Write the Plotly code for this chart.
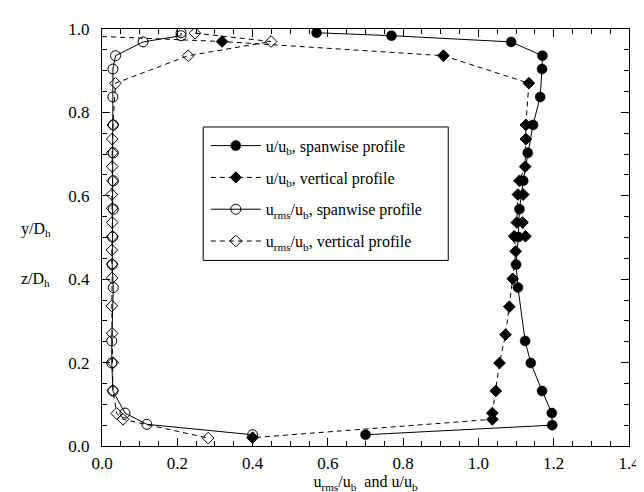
import plotly.graph_objects as go

# u/u_b, spanwise profile (filled circles, solid line)
u_span_x = [0.570, 0.769, 1.087, 1.170, 1.169, 1.164, 1.145, 1.131, 1.119, 1.109, 1.106, 1.100, 1.105, 1.124, 1.139, 1.169, 1.195, 1.196, 0.700]
u_span_y = [0.991, 0.984, 0.969, 0.936, 0.904, 0.837, 0.770, 0.703, 0.636, 0.568, 0.501, 0.435, 0.380, 0.252, 0.199, 0.132, 0.079, 0.050, 0.027]

# u/u_b, vertical profile (filled diamonds, dashed line)
u_vert_x = [0.000, 0.319, 0.907, 1.134, 1.126, 1.126, 1.124, 1.109, 1.119, 1.105, 1.102, 1.117, 1.125, 1.095, 1.099, 1.091, 1.082, 1.072, 1.056, 1.046, 1.037, 1.037, 0.400]
u_vert_y = [0.982, 0.970, 0.936, 0.870, 0.770, 0.736, 0.670, 0.636, 0.603, 0.603, 0.536, 0.536, 0.503, 0.503, 0.467, 0.401, 0.334, 0.267, 0.199, 0.132, 0.079, 0.064, 0.020]

# u_rms/u_b, spanwise profile (open circles, solid line)
urms_span_x = [0.210, 0.210, 0.109, 0.036, 0.029, 0.029, 0.030, 0.030, 0.030, 0.030, 0.028, 0.027, 0.030, 0.026, 0.026, 0.029, 0.061, 0.119, 0.400]
urms_span_y = [0.991, 0.984, 0.969, 0.936, 0.904, 0.837, 0.770, 0.703, 0.636, 0.568, 0.501, 0.435, 0.380, 0.252, 0.199, 0.132, 0.079, 0.052, 0.027]

# u_rms/u_b, vertical profile (open diamonds, dashed line)
urms_vert_x = [0.247, 0.449, 0.229, 0.036, 0.029, 0.027, 0.027, 0.027, 0.028, 0.026, 0.027, 0.027, 0.028, 0.026, 0.027, 0.027, 0.026, 0.027, 0.029, 0.029, 0.039, 0.056, 0.282]
urms_vert_y = [0.990, 0.970, 0.936, 0.870, 0.770, 0.736, 0.703, 0.670, 0.636, 0.603, 0.570, 0.536, 0.503, 0.470, 0.436, 0.403, 0.336, 0.270, 0.200, 0.133, 0.078, 0.064, 0.019]

x_ticks = [0.0, 0.2, 0.4, 0.6, 0.8, 1.0, 1.2, 1.4]
y_ticks = [0.0, 0.2, 0.4, 0.6, 0.8, 1.0]

FONT = "Liberation Serif, Times New Roman, serif"

fig = go.Figure()

fig.add_trace(go.Scatter(
    x=u_span_x, y=u_span_y, mode="lines+markers",
    name="u/u<sub>b</sub>, spanwise profile", legendgroup="a",
    line=dict(color="black", width=1),
    marker=dict(symbol="circle", size=10, color="black", opacity=1,
                line=dict(color="black", width=0.5)),
))
vert_sizes = [0] + [9] * (len(u_vert_x) - 1)
fig.add_trace(go.Scatter(
    x=u_vert_x, y=u_vert_y, mode="lines+markers",
    name="u/u<sub>b</sub>, vertical profile", legendgroup="b",
    line=dict(color="black", width=1, dash="5px,4px"),
    marker=dict(symbol="diamond", size=vert_sizes, color="black", opacity=1,
                line=dict(color="black", width=1)),
))
fig.add_trace(go.Scatter(
    x=urms_span_x, y=urms_span_y, mode="lines+markers",
    name="u<sub>rms</sub>/u<sub>b</sub>, spanwise profile", legendgroup="c",
    line=dict(color="black", width=1),
    marker=dict(symbol="circle-open", size=10, color="black", line=dict(width=1)),
))
fig.add_trace(go.Scatter(
    x=urms_vert_x, y=urms_vert_y, mode="lines+markers",
    name="u<sub>rms</sub>/u<sub>b</sub>, vertical profile", legendgroup="d",
    line=dict(color="black", width=1, dash="5px,4px"),
    marker=dict(symbol="diamond-open", size=9, color="black", line=dict(width=1)),
))

axis_common = dict(
    showline=True, linecolor="black", linewidth=1, mirror="ticks",
    ticks="inside", ticklen=8, tickwidth=1, tickcolor="black",
    showgrid=False, zeroline=False,
    tickfont=dict(family=FONT, size=17, color="black"),
    minor=dict(ticks="inside", ticklen=5, tickwidth=1, tickcolor="black", dtick=0.05, showgrid=False),
)

fig.update_xaxes(range=[0, 1.4], tickvals=x_ticks, ticktext=[f"{v:.1f}" for v in x_ticks],
                 ticklabelstandoff=2,
                 title=dict(text="u<sub>rms</sub>/u<sub>b</sub>  and u/u<sub>b</sub>",
                            font=dict(family=FONT, size=16, color="black"), standoff=2),
                 **axis_common)
fig.update_yaxes(range=[0, 1.0], tickvals=y_ticks, ticktext=[f"{v:.1f}" for v in y_ticks],
                 ticklabelstandoff=8,
                 **axis_common)

fig.add_annotation(text="y/D<sub>h</sub>", xref="paper", yref="paper", x=-0.157, y=0.52,
                   xanchor="left", yanchor="middle", showarrow=False,
                   font=dict(family=FONT, size=16, color="black"))
fig.add_annotation(text="z/D<sub>h</sub>", xref="paper", yref="paper", x=-0.157, y=0.40,
                   xanchor="left", yanchor="middle", showarrow=False,
                   font=dict(family=FONT, size=16, color="black"))

# legend frame
fig.add_shape(type="rect", xref="paper", yref="paper",
              x0=0.192, x1=0.657, y0=0.445, y1=0.765,
              line=dict(color="black", width=1), fillcolor="rgba(0,0,0,0)", layer="above")

fig.update_layout(
    width=644, height=492,
    margin=dict(l=94, r=13, t=13, b=54),
    paper_bgcolor="white", plot_bgcolor="white",
    font=dict(family=FONT, size=16, color="black"),
    showlegend=True,
    legend=dict(x=0.197, y=0.605, xanchor="left", yanchor="middle",
                borderwidth=0, bgcolor="rgba(0,0,0,0)",
                font=dict(family=FONT, size=16, color="black"),
                traceorder="grouped", tracegroupgap=8, itemwidth=50),
)

fig.write_html("out.html")
